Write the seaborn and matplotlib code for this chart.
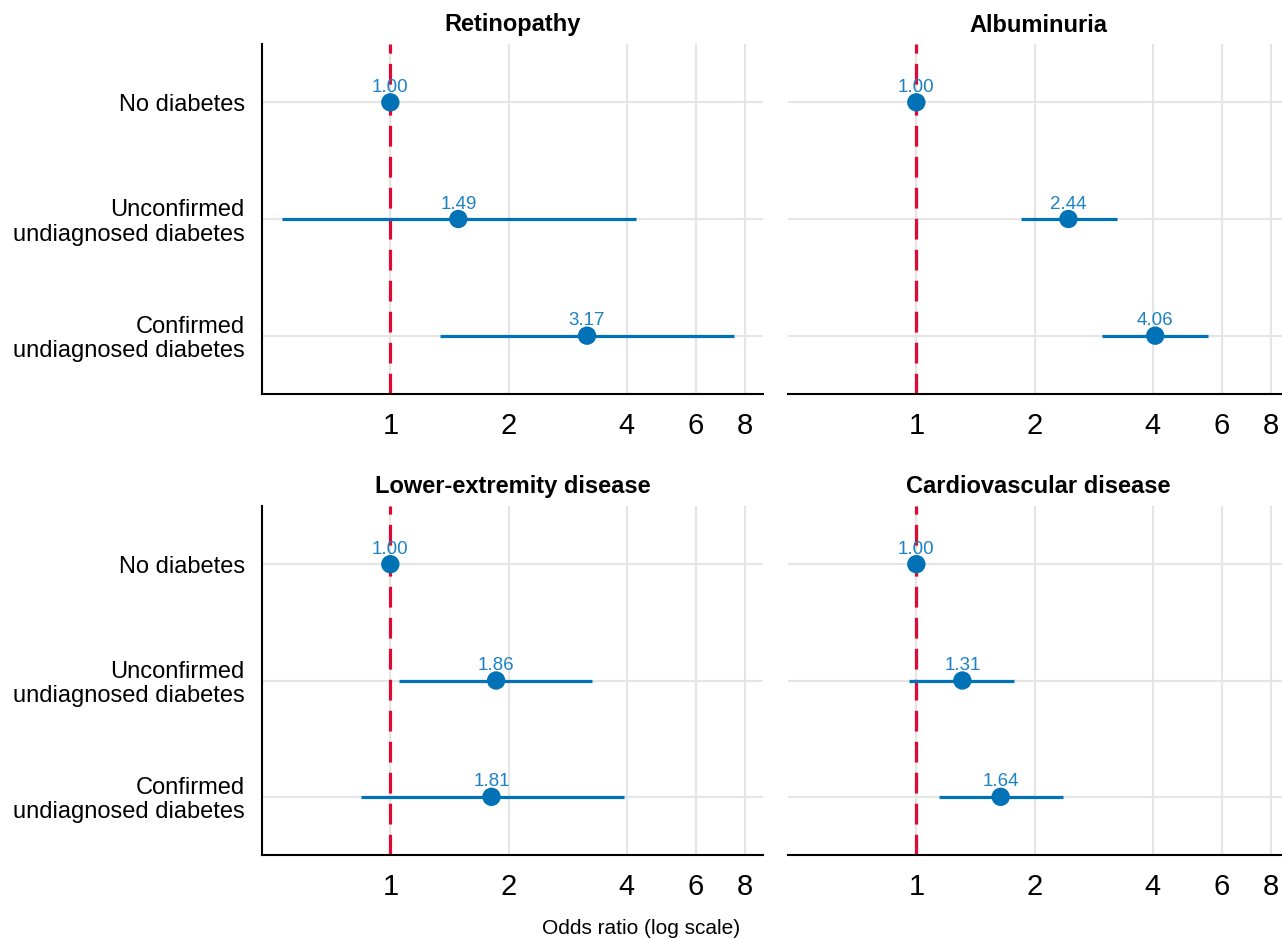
import numpy as np
import matplotlib.pyplot as plt
import pandas as pd
import seaborn as sns
from matplotlib.ticker import FixedLocator, FixedFormatter, NullLocator

# %%
outcomes = ['Retinopathy', 'Albuminuria', 'Lower-extremity disease', 'Cardiovascular disease']
groups = ['No diabetes', 'Unconfirmed\nundiagnosed diabetes', 'Confirmed\nundiagnosed diabetes']

odds_ratio = [[1.00, 1.49, 3.17],
              [1.00, 2.44, 4.06],
              [1.00, 1.86, 1.81],
              [1.00, 1.31, 1.64]]
ci_low = [[1.00, 0.53, 1.34],
          [1.00, 1.85, 2.97],
          [1.00, 1.05, 0.84],
          [1.00, 0.96, 1.14]]
ci_high = [[1.00, 4.22, 7.49],
           [1.00, 3.24, 5.52],
           [1.00, 3.27, 3.93],
           [1.00, 1.77, 2.36]]
x_ticks = [1, 2, 4, 6, 8]

rows = []
for i, out in enumerate(outcomes):
    for j, g in enumerate(groups):
        rows.append({'outcome': out, 'group': g, 'pos': j,
                     'or': odds_ratio[i][j], 'lo': ci_low[i][j], 'hi': ci_high[i][j]})
df = pd.DataFrame(rows)

# %%
sns.set_style('white')
plt.rcParams['font.family'] = ['Liberation Sans', 'DejaVu Sans']
plt.rcParams['text.color'] = 'black'
plt.rcParams['xtick.color'] = 'black'
plt.rcParams['ytick.color'] = 'black'
plt.rcParams['axes.titlecolor'] = 'black'

blue = '#0072B5'
label_blue = '#1C82C4'
red = '#DC0A35'
grid_col = '#E5E5E5'

W, H = 1282, 939
fig = plt.figure(figsize=(W / 100, H / 100), dpi=100)

# panel boxes in pixels: left, top, right, bottom
boxes = [(262, 44, 763, 394), (788, 44, 1289, 394),
         (262, 506, 763, 855), (788, 506, 1289, 855)]

for k, out in enumerate(outcomes):
    l, t, r, b = boxes[k]
    ax = fig.add_axes([l / W, 1 - b / H, (r - l) / W, (b - t) / H])
    sub = df[df['outcome'] == out]

    ax.axvline(1, color=red, lw=2.3, linestyle=(0, (6.5, 3.2)), zorder=2)
    ci = sub[sub['hi'] > sub['lo']]
    ax.hlines(ci['pos'], ci['lo'], ci['hi'], color=blue, lw=2.3, zorder=3)
    sns.scatterplot(data=sub, x='or', y='pos', color=blue, s=175,
                    edgecolor='none', zorder=4, legend=False, ax=ax)
    for _, row in sub.iterrows():
        ax.annotate(f"{row['or']:.2f}", (row['or'], row['pos']), xytext=(0, 7.5),
                    textcoords='offset points', ha='center', va='baseline',
                    fontsize=13.5, color=label_blue, zorder=5)

    ax.set_xscale('log')
    ax.set_xlim(0.471, 8.9)
    ax.set_ylim(2.5, -0.5)
    ax.xaxis.set_major_locator(FixedLocator(x_ticks))
    ax.xaxis.set_major_formatter(FixedFormatter([str(v) for v in x_ticks]))
    ax.xaxis.set_minor_locator(NullLocator())
    ax.set_yticks(range(len(groups)))
    ax.set_yticklabels(groups)
    for lab in ax.get_yticklabels():
        lab.set_linespacing(1.12)

    ax.grid(True, color=grid_col, lw=1.5)
    ax.set_axisbelow(True)
    sns.despine(ax=ax, top=True, right=True, left=(k % 2 == 1))
    for sp in ['left', 'bottom']:
        ax.spines[sp].set_linewidth(1.5)
        ax.spines[sp].set_color('black')

    ax.tick_params(axis='x', length=8.5, width=1.5, color='black', labelsize=21, pad=4.5)
    if k % 2 == 0:
        ax.tick_params(axis='y', length=8.5, width=1.5, color='black', labelsize=17, pad=4)
    else:
        ax.tick_params(axis='y', length=0, labelleft=False)

    ax.set_xlabel('')
    ax.set_ylabel('')
    ax.set_title(out, fontsize=17, fontweight='bold', pad=9)

fig.text(0.5, 1 - 929 / H, 'Odds ratio (log scale)', ha='center', va='center', fontsize=15)

fig.savefig('out.png', dpi=100, facecolor='white')
